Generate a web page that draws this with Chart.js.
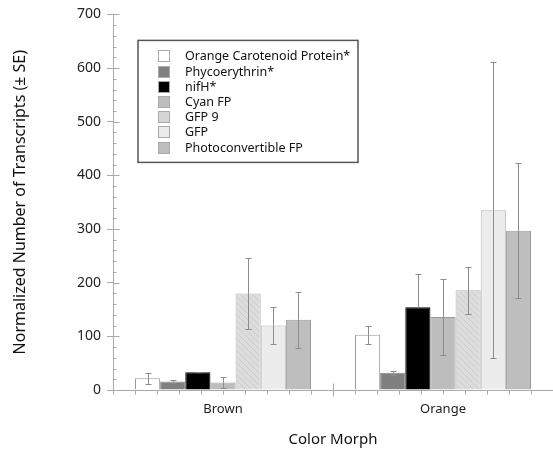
<!DOCTYPE html>
<html>
<head>
<title>Color Morph transcripts</title>
<script src="https://cdn.jsdelivr.net/npm/chart.js@4.4.1/dist/chart.umd.min.js"></script>
<style>
  body { margin: 0; background: #fff; }
  #wrap { width: 553px; height: 456px; }
</style>
</head>
<body>
<div id="wrap"><canvas id="morphChart"></canvas></div>
<script>
// ---------------- data ----------------
const categories = ['Brown', 'Orange'];
const seriesNames = ['Orange Carotenoid Protein*', 'Phycoerythrin*', 'nifH*', 'Cyan FP', 'GFP 9', 'GFP', 'Photoconvertible FP'];
const ocpMean   = [22, 103];
const ocpSE     = [10, 17];
const phycoMean = [16, 32];
const phycoSE   = [3, 4];
const nifhMean  = [33, 154];
const nifhSE    = [1, 62];
const cyanMean  = [14, 136];
const cyanSE    = [10, 71];
const gfp9Mean  = [180, 186];
const gfp9SE    = [66, 44];
const gfpMean   = [120, 335];
const gfpSE     = [35, 276];
const pcMean    = [131, 297];
const pcSE      = [52, 126];
const yTicks    = [0, 100, 200, 300, 400, 500, 600, 700];

const FONT = "'Noto Sans', 'DejaVu Sans', sans-serif";
const axisGray = '#ababab';

// hatched fill for GFP 9
function hatch() {
    const c = document.createElement('canvas');
    c.width = 6; c.height = 6;
    const g = c.getContext('2d');
    g.fillStyle = '#dcdcdc';
    g.fillRect(0, 0, 6, 6);
    g.strokeStyle = '#cdcdcd';
    g.lineWidth = 1;
    g.beginPath();
    g.moveTo(0, 0); g.lineTo(6, 6);
    g.moveTo(5, -1); g.lineTo(7, 1);
    g.moveTo(-1, 5); g.lineTo(1, 7);
    g.stroke();
    return g.createPattern(c, 'repeat');
}
const gfp9Fill = hatch();

const means = [ocpMean, phycoMean, nifhMean, cyanMean, gfp9Mean, gfpMean, pcMean];
const errs  = [ocpSE, phycoSE, nifhSE, cyanSE, gfp9SE, gfpSE, pcSE];
const fills = ['#ffffff', '#7f7f7f', '#000000', '#bdbdbd', gfp9Fill, '#ececec', '#bebebe'];
const swatch = ['#ffffff', '#7f7f7f', '#000000', '#bdbdbd', '#d6d6d6', '#ececec', '#bebebe'];
const borders = ['#9a9a9a', '#8a8a8a', '#000000', '#9a9a9a', '#b5b5b5', '#b5b5b5', '#9a9a9a'];

const datasets = seriesNames.map((name, i) => ({
    label: name,
    data: means[i],
    se: errs[i],
    backgroundColor: fills[i],
    swatchColor: swatch[i],
    borderColor: borders[i],
    borderWidth: 1,
    borderSkipped: 'bottom',
    categoryPercentage: 0.8,
    barPercentage: 1.0
}));

// error bars
const errorBars = {
    id: 'errorBars',
    afterDatasetsDraw(chart) {
        const ctx = chart.ctx;
        const y = chart.scales.y;
        ctx.save();
        ctx.strokeStyle = '#8c8c8c';
        ctx.lineWidth = 1;
        chart.data.datasets.forEach((ds, i) => {
            const meta = chart.getDatasetMeta(i);
            meta.data.forEach((bar, j) => {
                const m = ds.data[j], e = ds.se[j];
                const top = Math.round(y.getPixelForValue(m + e)) + 0.5;
                const mid = y.getPixelForValue(m);
                const bot = Math.round(y.getPixelForValue(m - e)) + 0.5;
                const x = Math.round(bar.x) + 0.5;
                ctx.beginPath();
                ctx.moveTo(x, top); ctx.lineTo(x, mid);
                ctx.moveTo(x - 3, top); ctx.lineTo(x + 3, top);
                if (ds.backgroundColor !== '#000000') {
                    ctx.moveTo(x, mid); ctx.lineTo(x, bot);
                    ctx.moveTo(x - 3, bot); ctx.lineTo(x + 3, bot);
                }
                ctx.stroke();
            });
        });
        ctx.restore();
    }
};

// minor ticks on both axes
const axisTicks = {
    id: 'axisTicks',
    afterDraw(chart) {
        const ctx = chart.ctx;
        const x = chart.scales.x, y = chart.scales.y;
        const x0 = Math.round(x.left) + 0.5;
        const y0 = Math.round(y.getPixelForValue(0)) + 0.5;
        ctx.save();
        ctx.strokeStyle = axisGray;
        ctx.lineWidth = 1;
        ctx.beginPath();
        for (let v = 0; v <= 700; v += 20) {
            const py = Math.round(y.getPixelForValue(v)) + 0.5;
            ctx.moveTo(x0, py);
            ctx.lineTo(x0 + (v % 100 === 0 ? 6 : 3), py);
        }
        const n = categories.length * 10;
        for (let k = 0; k <= n; k++) {
            const px = Math.round(x.left + (x.right - x.left) * k / n) + 0.5;
            if (k === 10) {
                ctx.moveTo(px, y0 - 7); ctx.lineTo(px, y0 + 6);
            } else {
                ctx.moveTo(px, y0); ctx.lineTo(px, y0 + 4);
            }
        }
        ctx.stroke();
        ctx.restore();
    }
};

// boxed legend inside the plot
const boxLegend = {
    id: 'boxLegend',
    afterDraw(chart) {
        const ctx = chart.ctx;
        const a = chart.chartArea;
        const bx = a.left + 25, by = a.top + 26, bw = 220, bh = 122;
        ctx.save();
        ctx.strokeStyle = '#555';
        ctx.lineWidth = 1.5;
        ctx.strokeRect(bx, by, bw, bh);
        ctx.font = '12.5px ' + FONT;
        ctx.textBaseline = 'middle';
        chart.data.datasets.forEach((ds, i) => {
            const cy = Math.round(by + 16 + i * 15.2);
            ctx.fillStyle = ds.swatchColor;
            ctx.fillRect(bx + 20.5, cy - 5.5, 11, 11);
            ctx.strokeStyle = '#aaa';
            ctx.lineWidth = 1;
            ctx.strokeRect(bx + 20.5, cy - 5.5, 11, 11);
            ctx.fillStyle = '#111';
            ctx.fillText(ds.label, bx + 47, cy);
        });
        ctx.restore();
    }
};

new Chart(document.getElementById('morphChart'), {
    type: 'bar',
    data: { labels: categories, datasets: datasets },
    plugins: [errorBars, axisTicks, boxLegend],
    options: {
        responsive: true,
        maintainAspectRatio: false,
        animation: false,
        layout: { padding: { top: 14, right: 0, left: 0, bottom: 0 } },
        plugins: {
            legend: { display: false },
            tooltip: { enabled: false }
        },
        scales: {
            x: {
                grid: { display: true, drawOnChartArea: false, drawTicks: false },
                border: { display: true, color: axisGray },
                ticks: { color: '#222', padding: 11, font: { family: FONT, size: 13 } },
                title: { display: true, text: 'Color Morph', color: '#111', padding: { top: 4, bottom: 7 }, font: { family: FONT, size: 15 } },
                afterFit(s) { s.height = 66; }
            },
            y: {
                min: 0,
                max: 700,
                afterBuildTicks(s) { s.ticks = yTicks.map(v => ({ value: v })); },
                grid: { display: true, drawOnChartArea: false, drawTicks: true, tickLength: 6, color: axisGray },
                border: { display: true, color: axisGray },
                ticks: { color: '#222', padding: 6, font: { family: FONT, size: 14 } },
                title: { display: true, text: 'Normalized Number of Transcripts (± SE)', color: '#111', padding: { top: 11, bottom: 4 }, font: { family: FONT, size: 16 } },
                afterFit(s) { s.width = 113; }
            }
        }
    }
});
</script>
</body>
</html>
